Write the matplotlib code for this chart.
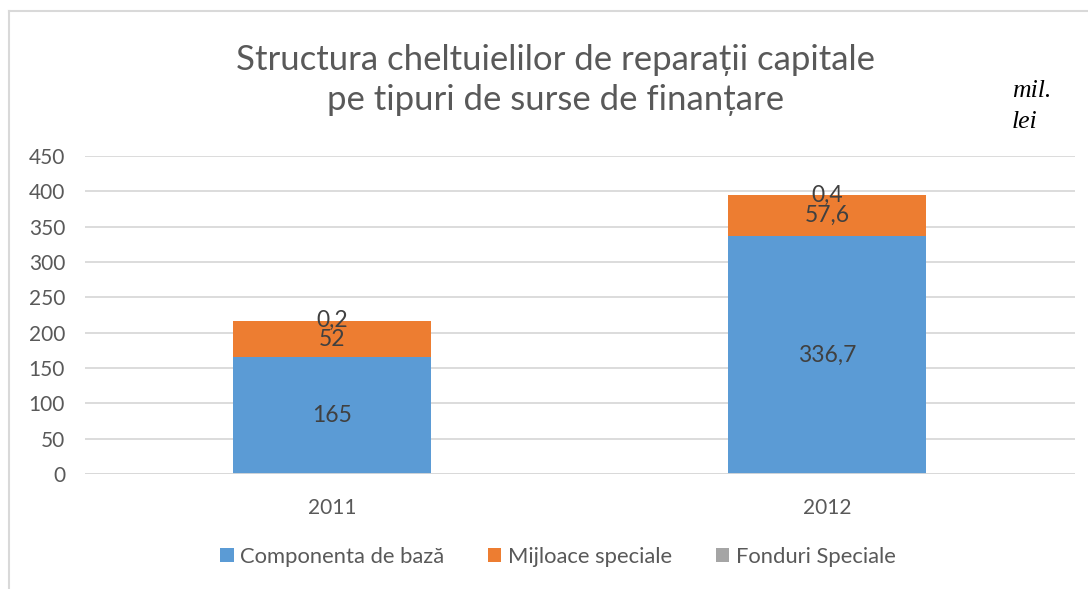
import matplotlib.pyplot as plt
import numpy as np

# data (mil. lei)
years = ['2011', '2012']
componenta_baza = [165, 336.7]
mijloace_speciale = [52, 57.6]
fonduri_speciale = [0.2, 0.4]
series_names = ['Componenta de bază', 'Mijloace speciale', 'Fonduri Speciale']
colors = ['#5B9BD5', '#ED7D31', '#A5A5A5']
yticks = [0, 50, 100, 150, 200, 250, 300, 350, 400, 450]

plt.rcParams['font.family'] = ['Lato', 'DejaVu Sans']

W, H = 1088, 589
fig = plt.figure(figsize=(W / 100, H / 100), dpi=100)
ax = fig.add_axes([84.5 / W, 1 - 474 / H, (1074.5 - 84.5) / W, (474 - 156) / H])

x = np.arange(len(years))
bottom = np.zeros(len(years))
series = [componenta_baza, mijloace_speciale, fonduri_speciale]
for vals, name, c in zip(series, series_names, colors):
    vals = np.array(vals, dtype=float)
    ax.bar(x, vals, 0.4, bottom=bottom, color=c, label=name, zorder=3)
    bottom = bottom + vals

# data labels
bottom = np.zeros(len(years))
for k, vals in enumerate(series):
    for i, v in enumerate(vals):
        if k < 2:
            yy = bottom[i] + v / 2
        else:
            yy = bottom[i] + v
        lbl = f'{v:g}'.replace('.', ',')
        ax.text(x[i], yy, lbl, ha='center', va='center', fontsize=16.5,
                color='#404040', zorder=5)
        bottom[i] += v

ax.set_xlim(-0.5, 1.5)
ax.set_ylim(0, 450)
ax.set_yticks(yticks)
ax.set_xticks(x)
ax.set_xticklabels(years)
ax.tick_params(axis='both', length=0, labelsize=15, colors='#595959')
ax.tick_params(axis='y', pad=14)
ax.tick_params(axis='x', pad=17)
ax.grid(axis='y', color='#D9D9D9', linewidth=1.3, zorder=0)
for s in ax.spines.values():
    s.set_visible(False)
ax.axhline(0, color='#D9D9D9', linewidth=1.3, zorder=4)

fig.text(556 / W, 1 - 80 / H,
         'Structura cheltuielilor de reparații capitale\npe tipuri de surse de finanțare',
         ha='center', va='center', fontsize=25, color='#595959', linespacing=1.32)
serif = dict(ha='left', va='baseline', fontsize=18.5, family='Liberation Serif',
             style='italic', color='black')
fig.text(1012 / W, 1 - 97 / H, 'mil.', **serif)
fig.text(1012 / W, 1 - 128 / H, 'lei', **serif)

leg = fig.legend(loc='center', bbox_to_anchor=(558 / W, 1 - 557 / H), ncol=3,
                 frameon=False, fontsize=15.8, handlelength=0.6, handleheight=0.6,
                 handletextpad=0.3, columnspacing=2.0, labelcolor='#595959')

# chart border (left and top visible)
fig.add_artist(plt.Line2D([9 / W, 9 / W], [0, 1 - 11 / H], color='#D9D9D9', lw=1.5))
fig.add_artist(plt.Line2D([9 / W, 1], [1 - 11 / H, 1 - 11 / H], color='#D9D9D9', lw=1.5))

fig.savefig('out.png', dpi=100)
